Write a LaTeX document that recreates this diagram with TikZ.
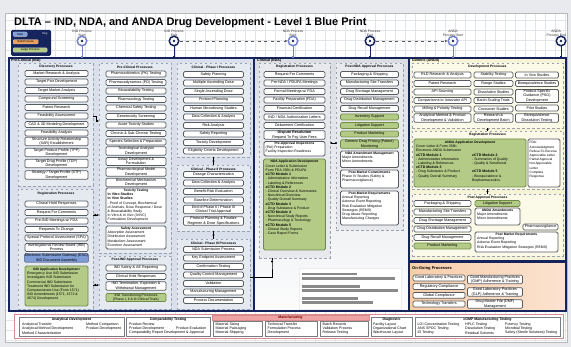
\documentclass[tikz,border=0pt]{standalone}
\usepackage{fontspec}
\setmainfont{Liberation Sans}
\usetikzlibrary{arrows.meta,calc}

\definecolor{navy}{HTML}{15245C}
\definecolor{gridc}{HTML}{E1E4E9}
\definecolor{pageback}{HTML}{E8EAED}
\definecolor{indfill}{HTML}{D9E0EC}
\definecolor{indsub}{HTML}{E5EAF1}
\definecolor{ndafill}{HTML}{DADDE2}
\definecolor{ndasub}{HTML}{E7E9ED}
\definecolor{andafill}{HTML}{F7F3D6}
\definecolor{andasub}{HTML}{FBF9E8}
\definecolor{ongoing}{HTML}{F8CDAA}
\definecolor{ongoinglt}{HTML}{FBE3D0}
\definecolor{boxline}{HTML}{585B60}
\definecolor{dashc}{HTML}{9AA2AE}
\definecolor{greenfill}{HTML}{B3CB86}
\definecolor{greenline}{HTML}{6F8C45}
\definecolor{bluefill}{HTML}{7E9CD6}
\definecolor{orangefill}{HTML}{E9A05E}
\definecolor{mfgline}{HTML}{D98C8C}
\definecolor{mfgbar}{HTML}{EFA3A3}
\definecolor{ringlt}{HTML}{7383C6}
\definecolor{redact}{HTML}{8A8A8A}

\newcommand{\bxfont}{\fontsize{3.7}{4.3}\selectfont}
\newcommand{\hdfont}{\fontsize{3.3}{3.9}\selectfont\bfseries}
\newcommand{\lsfont}{\fontsize{3.5}{4.2}\selectfont}
\newcommand{\mffont}{\fontsize{3.6}{4.2}\selectfont}

\tikzset{
  box/.style={draw=boxline, line width=0.75pt, rounded corners=1.2pt, fill=white,
    inner sep=0.4pt, font=\bxfont, align=center, minimum height=5.8pt},
  gbox/.style={box, fill=greenfill, draw=greenline},
  bbox/.style={box, fill=bluefill, draw=navy!60},
  area/.style 2 args={minimum width=#1pt, minimum height=#2pt, anchor=north west,
    inner sep=0pt, outer sep=0pt},
  panel/.style={draw=navy, line width=1.3pt},
  subpanel/.style={draw=dashc, line width=0.55pt, dash pattern=on 2.5pt off 2.5pt},
  bigbox/.style={draw=boxline, line width=0.75pt, rounded corners=1.5pt, fill=white},
  greenbig/.style={draw=greenline, line width=0.75pt, rounded corners=1.5pt, fill=greenfill},
  hdr/.style={font=\hdfont, inner sep=0pt},
  lst/.style={font=\lsfont, align=left, inner sep=0pt, anchor=north west},
  plabel/.style={font=\fontsize{3.6}{4}\selectfont\bfseries, inner sep=0pt, anchor=west},
  mslabel/.style={font=\fontsize{3.4}{3.9}\selectfont, align=center, inner sep=0pt, text=black!80},
  startms/.style={circle, minimum size=9.5pt, inner sep=0pt, line width=1.5pt, draw=ringlt, fill=white},
  endms/.style={circle, minimum size=9.5pt, inner sep=0pt, line width=1.5pt, draw=navy, fill=white},
  droplt/.style={draw=ringlt, line width=0.7pt, -{Square[length=1.6pt,width=1.6pt]}},
  dropdk/.style={draw=navy, line width=0.7pt, -{Square[length=1.6pt,width=1.6pt]}},
  msdash/.style={draw=black!65, line width=0.6pt, dash pattern=on 3pt off 3.5pt,
    -{Latex[length=2.5pt,width=2.5pt]}},
  link/.style={draw=black, line width=0.6pt},
  tip/.style={-{Latex[length=2pt,width=2pt]}},
  knot/.style={circle, fill=black, inner sep=0pt, minimum size=2.4pt},
  pill/.style={rounded corners=1pt, draw=white!60!gray, line width=0.3pt, inner sep=0.4pt,
    minimum height=4.4pt, font=\fontsize{2.9}{3.3}\selectfont, anchor=west},
  mbox/.style={draw=boxline!80, line width=0.5pt, fill=white},
  mtx/.style={font=\mffont, inner sep=0pt, anchor=west},
  mhd/.style={font=\fontsize{3.5}{4}\selectfont\bfseries, inner sep=0pt},
}

\begin{document}
\begin{tikzpicture}[x=1pt,y=-1pt]
\useasboundingbox (0,0) rectangle (571,347);
\fill[pageback] (0,0) rectangle (571,347);
\fill[white] (5,13) rectangle (567,342);
\foreach \gx in {15,25,...,565} \draw[gridc, line width=0.35pt] (\gx,13) -- (\gx,342);
\foreach \gy in {20,30,...,340} \draw[gridc, line width=0.35pt] (5,\gy) -- (567,\gy);
\draw[gray!55, line width=0.6pt] (5,13) rectangle (567,342);

% ---------- title and key ----------
\node[anchor=base west, font=\fontsize{11}{13}\selectfont\bfseries, inner sep=0pt] (title)
  at (14,26) {DLTA – IND, NDA, and ANDA Drug Development - Level 1 Blue Print};

\node[fill=navy, rounded corners=1.5pt, area={40}{26}] (key) at (11,30) {};
\node[pill, fill=bluefill, minimum width=14pt] (kTask) at (13,34.2) {Task};
\node[pill, fill=orangefill, minimum width=25pt] (kSub) at (13,41.8) {Sub-Process};
\node[pill, fill=greenfill, minimum width=34pt] (kLarge) at (13,50) {Large Process};
\node[font=\fontsize{2.9}{3.3}\selectfont, text=white, inner sep=0pt] (kKey) at (45,33.5) {Key};

% ---------- main panels ----------
\node[panel, fill=indfill, area={245}{253}] (indp) at (9,58) {};
\node[panel, top color=ndafill, bottom color=white!92!ndafill, area={155}{253}] (ndap) at (254,58) {};
\node[panel, fill=andafill, area={157}{203}] (andap) at (409,58) {};
\node[panel, left color=ongoing, right color=ongoinglt, area={157}{49}] (ongp) at (409,262) {};

\node[plabel] (lInd) at (11,61) {Pre-Clinical (IND)};
\node[plabel] (lNda) at (257,61) {Clinical (NDA)};
\node[plabel] (lAnda) at (412,61) {Generic (ANDA)};
\node[plabel, font=\fontsize{4}{4.5}\selectfont\bfseries] (lOng) at (412,268) {On-Going Processes};

% ---------- sub-process frames ----------
\node[subpanel, fill=indsub, area={75}{123}] (disc) at (18,63) {};
\node[subpanel, fill=indsub, area={75}{120}] (regi) at (18,189) {};
\node[subpanel, fill=indsub, area={72}{190}] (prec) at (99,63) {};
\node[subpanel, fill=indsub, area={72}{53}] (posti) at (99,256) {};
\node[subpanel, fill=indsub, area={73}{94}] (ph1) at (177,63) {};
\node[subpanel, fill=indsub, area={73}{66}] (ph2) at (177,165) {};
\node[subpanel, fill=indsub, area={73}{70}] (ph3) at (177,239) {};
\node[subpanel, fill=ndasub, area={71}{195}] (regn) at (259,63) {};
\node[subpanel, fill=ndasub, area={67}{167}] (postn) at (336,63) {};
\node[subpanel, fill=andasub, area={151}{65}] (anddev) at (412,63) {};
\node[subpanel, fill=andasub, area={151}{58}] (andreg) at (412,131) {};
\node[subpanel, fill=andasub, area={151}{62}] (andpost) at (412,194) {};

\node[hdr] (hDisc) at (56,67) {Discovery Processes};
\node[hdr] (hRegi) at (56,193.5) {Registration Processes};
\node[hdr] (hPrec) at (135,67) {Pre-Clinical Processes};
\node[hdr] (hPosti) at (135,260) {Post-IND Approval Processes};
\node[hdr] (hPh1) at (213.5,67) {Clinical - Phase I Processes};
\node[hdr] (hPh2) at (213.5,169) {Clinical - Phase II Processes};
\node[hdr] (hPh3) at (213.5,243) {Clinical - Phase III Processes};
\node[hdr] (hRegn) at (294.5,67) {Registration Processes};
\node[hdr] (hPostn) at (369.5,67) {Post-NDA Approval Processes};
\node[hdr] (hDev) at (487.5,67) {Development Processes};
\node[hdr] (hAreg) at (487.5,135) {Registration Processes};
\node[hdr] (hApost) at (487.5,198) {Post Approval Processes};

% ---------- Pre-Clinical (IND) ----------
\foreach[count=\i] \yy/\txt in {73.5/{Market Research \& Analysis}, 82/{Target Pair Development},
  90.5/{Target Market Analysis}, 99/{Compound Screening}, 107.5/{Patent Research},
  116/{Feasibility Assessment}, 124.5/{CAD \& 3D Modeling Development}, 133/{Feasibility Analysis},
  141.5/{Structure Activity Relationship\\(SAR) Establishment},
  152.5/{Target Product Profile (TPP)\\Development}, 163.5/{Target Drug Profile (TDP)\\Development},
  175/{Strategy / Target Profile (STP)\\Development}}
  \node[box, minimum width=63pt] (dsc\i) at (56.5,\yy) {\txt};

\foreach[count=\i] \yy/\txt in {204/{Clinical Hold Responses}, 212.5/{Request For Comments},
  221/{Pre-IND Meetings w/ FDA}, 229.5/{Requests To Change}, 238/{Special Protocol Assessment (SPA)},
  247.5/{Investigational Review Board (IRB)\\Process}}
  \node[box, minimum width=63pt] (rgi\i) at (56.5,\yy) {\txt};
\node[bbox, minimum width=63pt] (esg) at (56.5,258) {Electronic Submission Gateway (ESG)\\IND Document Assembly};
\node[greenbig, area={63}{40}] (indapp) at (25,266) {};
\node[hdr] (indappH) at (56.5,269.5) {IND Application Development};
\node[lst] (indappL) at (27,272) {Emergency Use IND Submission\\Investigator IND Submission\\
  Commercial IND Submission\\Treatment IND Submission for\\Compassionate Use (Form 1571)\\
  IND Amendments (1571, 1572 \&\\3674) Development};

\foreach[count=\i] \yy/\txt in {74/{Pharmacokinetics (PK) Testing}, 82.5/{Pharmacodynamics (PD) Testing},
  91/{Bioavailability Testing}, 99.5/{Pharmacology Testing}, 108/{Chemical Safety Testing},
  116.5/{Genotoxicity Screening}, 125/{Acute Toxicity Studies}, 133.5/{Chronic \& Sub-Chronic Testing},
  142/{Species Selection \& Preparation}, 151/{Toxicological Analysis\\Development},
  161.5/{Assay Development \&\\Formulation}, 172/{Pharmacological Model\\Development},
  182.5/{Biochemical Mechanism\\Development}}
  \node[box, minimum width=60pt] (pcl\i) at (136,\yy) {\txt};
\node[bigbox, area={60}{35}] (tox) at (106,188) {};
\node[hdr] (toxH) at (136,190.5) {Toxicity Testing};
\node[lst] (toxL) at (107.5,193) {\textbf{In Vitro Studies}\\\textbf{In Vivo Studies}\\
  - Proof of Concept, Biochemical\\of Animals, Dose Response / Dose\\\& Bioavailability Study\\
  In Vitro \& In Vivo (IVIVC)\\Formulation Development};
\node[bigbox, area={60}{23}] (safe) at (106,226) {};
\node[hdr] (safeH) at (136,228.5) {Safety Assessment};
\node[lst] (safeL) at (107.5,231) {Absorption Assessment\\Distribution Assessment\\
  Metabolism Assessment\\Excretion Assessment};

\foreach[count=\i] \yy/\txt in {268/{IND Safety \& AE Reporting}, 276.5/{Clinical Hold Responses},
  286/{IND Termination, Expiration \&\\Withdrawal Management}}
  \node[box, minimum width=60pt] (pst\i) at (136,\yy) {\txt};
\node[gbox, minimum width=60pt, font=\fontsize{3.4}{4.1}\selectfont] (indtr) at (136,297.5)
  {IND Transitioning Processes\\(Phase I, II \& III Clinical Trials)};

\foreach[count=\i] \yy/\txt in {74.5/{Safety Planning}, 83/{Multiple Ascending Dose},
  91.5/{Single Ascending Dose}, 100/{Protocol Planning}, 108.5/{Human Microdosing Studies},
  117/{Data Collection \& Analysis}, 125.5/{Risk Analysis}, 134/{Safety Reporting},
  142.5/{Toxicity Development}, 151/{Eligibility Criteria Development}}
  \node[box, minimum width=60pt] (pa\i) at (213.5,\yy) {\txt};
\foreach[count=\i] \yy/\txt in {174.5/{Dosage Characterization}, 183/{Data Collection \& Analysis},
  191.5/{Benefit-Risk Evaluation}, 200/{Baseline Determination},
  209.5/{End of Phase II / Phase III\\Clinical Trial Approval},
  221/{Protocol Planning \& Finalize\\Regimen \& Dose Specifications}}
  \node[box, minimum width=60pt] (pb\i) at (213.5,\yy) {\txt};
\foreach[count=\i] \yy/\txt in {249.5/{NDA Submission Process}, 258/{Key Endpoint Assessment},
  266.5/{Confirmation Testing}, 275/{Quality Control Management}, 283.5/{Validation},
  292/{Manufacturing Management}, 300.5/{Process Documentation}}
  \node[box, minimum width=60pt] (pc\i) at (213.5,\yy) {\txt};

% ---------- Clinical (NDA) ----------
\foreach[count=\i] \yy/\txt in {74.5/{Request For Comments}, 83/{Pre-NDA / PDUFA Meetings},
  91.5/{Formal Meetings w/ FDA}, 100/{Facility Preparation (FDA)}, 108.5/{Financial Certification},
  117/{IND / NDA Authorization Letters}, 125.5/{Debarment Certification},
  135/{\textbf{Dispute Resolution}\\Request To Pay User Fees}}
  \node[box, minimum width=61pt] (rn\i) at (294.5,\yy) {\txt};
\node[bigbox, area={61}{14.5}] (pai) at (264,141.5) {};
\node[hdr] (paiH) at (294.5,144) {Pre-Approval Inspections};
\node[lst] (paiL) at (265.5,146) {(PAI) Preparation\\Facility Inspection Readiness};
\node[greenbig, area={62}{91}] (ndaapp) at (263.5,159) {};
\node[hdr] (ndaappH) at (294.5,162) {NDA Application Development};
\node[lst] (ndaappL) at (265.5,164.5) {Cover Letter \& Submission\\Form FDA 356h \& PDUFA\\
  \textbf{eCTD Module 1}\\- Administrative Information\\- Labeling \& References\\
  \textbf{eCTD Module 2}\\- Clinical Overview \& Summaries\\- Nonclinical Overview\\
  - Quality Overall Summary\\\textbf{eCTD Module 3}\\- Drug Substance \& Product\\
  \textbf{eCTD Module 4}\\- Nonclinical Study Reports\\- Pharmacology \& Toxicology\\
  \textbf{eCTD Module 5}\\- Clinical Study Reports\\- Case Report Forms};

\foreach[count=\i] \yy/\txt in {74.5/{Packaging \& Shipping}, 83/{Manufacturing Site Transfers},
  91.5/{Drug Shortage Management}, 100/{Drug Distribution Management}, 108.5/{Drug Recall Management}}
  \node[box, minimum width=58pt] (pn\i) at (369.5,\yy) {\txt};
\foreach[count=\i] \yy/\txt in {117/{Inventory Support}, 125.5/{Litigation Support},
  134/{Product Marketing}, 144/{Generic Drug Pricing (Patent)\\Monitoring}}
  \node[gbox, minimum width=58pt] (gn\i) at (369.5,\yy) {\txt};
\node[bigbox, area={58}{16.5}] (amd) at (340.5,151) {};
\node[hdr] (amdH) at (369.5,153.5) {NDA Amendment Management};
\node[lst] (amdL) at (342,156) {Major Amendments\\Minor Amendments};
\node[bigbox, area={58}{18}] (pmc) at (340.5,170) {};
\node[hdr] (pmcH) at (369.5,172.5) {Post-Market Commitments};
\node[lst] (pmcL) at (342,175) {Phase IV Studies (Safety \&\\Pharmacovigilance)};
\node[bigbox, area={58}{34}] (pmr) at (340.5,191) {};
\node[hdr] (pmrH) at (369.5,193.5) {Post-Market Requirements};
\node[lst] (pmrL) at (342,196) {Annual Reporting\\Adverse Event Reporting\\
  Risk Evaluation Mitigation\\Strategies (REMS)\\Drug Abuse Reporting\\Manufacturing Changes};

% withheld notes block
\node[draw=white!85!gray, fill=white, area={102}{41}] (notes) at (299,268) {};
\fill[redact] (302,272.7) rectangle (357,275.4);
\fill[redact] (302,277) rectangle (395,279.7);
\fill[redact] (302,285.3) rectangle (360,288);
\fill[redact] (302,289.4) rectangle (398,292.1);
\fill[redact] (302,297) rectangle (358,299.7);
\fill[redact] (302,301) rectangle (373,303.7);

% ---------- Generic (ANDA) ----------
\foreach[count=\i] \yy/\txt in {75/{RLD Research \& Analysis}, 83.5/{Patent Research},
  92/{API Sourcing}, 100.5/{Comparisons to Innovator API}, 109/{Milling \& Polarity Testing},
  118/{Analytical Method \& Product\\Development \& Validation}}
  \node[box, minimum width=57pt] (da\i) at (442.5,\yy) {\txt};
\foreach[count=\i] \yy/\txt in {75/{Stability Testing}, 83.5/{Range Studies},
  92/{Dissolution Studies}, 100.5/{Batch Scaling Trials}, 109/{Crossover Studies},
  118/{Research \&\\Development Batch}}
  \node[box, minimum width=39pt] (db\i) at (493.5,\yy) {\txt};
\foreach[count=\i] \yy/\txt in {75/{In Vivo Studies}, 83.5/{Bioequivalence Studies},
  96/{Product Specific\\Guidance (PSG)\\Development}, 108/{Pilot Studies},
  118/{Bioequivalence\\Dissolution Testing}}
  \node[box, minimum width=43pt] (dc\i) at (537,\yy) {\txt};

\node[greenbig, area={112}{48}] (andaapp) at (414,139) {};
\node[hdr] (andaappH) at (470,142.5) {ANDA Application Development};
\node[lst] (andaappL) at (416,145) {Cover Letter \& Form 356h\\Electronic ANDA Submission\\
  \textbf{eCTD Module 1}\\- Administrative Information\\- Labeling \& References\\
  \textbf{eCTD Module 3}\\- Drug Substance \& Product\\- Quality Overall Summary};
\node[lst] (andaappR) at (472,153.4) {\textbf{eCTD Module 2}\\- Summaries of Quality\\
  - Quality \& Nonclinical\\~\\\textbf{eCTD Module 5}\\- Bioequivalence \&\\Biopharmaceutics};
\node[bigbox, area={32}{48}] (fda) at (528,139) {};
\node[lst, font=\fontsize{3.2}{4.2}\selectfont] (fdaL) at (529.5,141.5) {FDA:\\Acknowledgment\\
  Refuse-To-Receive\\Approvable Letter\\Partial Approval\\Not Approvable\\Letter\\Complete\\Response};

\foreach[count=\i] \yy/\txt in {203.5/{Packaging \& Shipping}, 212/{Manufacturing Site Transfers},
  220.5/{Drug Shortage Management}, 229/{Drug Distribution Management}, 237.5/{Drug Recall Management}}
  \node[box, minimum width=57pt] (pa\i) at (442.5,\yy) {\txt};
\node[gbox, minimum width=57pt] (amkt) at (442.5,246) {Product Marketing};
\node[gbox, minimum width=45pt] (alit) at (497.5,203.5) {Litigation Support};
\node[bigbox, area={45}{17}] (aamd) at (475,208) {};
\node[hdr] (aamdH) at (497.5,210.5) {ANDA Amendments};
\node[lst] (aamdL) at (477,213) {Major Amendments\\Minor Amendments};
\node[box, minimum width=35pt] (apv) at (540.5,227) {Pharmacovigilance};
\node[bigbox, area={83}{20}] (apmr) at (475,232) {};
\node[hdr] (apmrH) at (516.5,234.5) {Post Market Requirements};
\node[lst] (apmrL) at (477,237) {Annual Reporting\\Adverse Event Reporting\\
  Risk Evaluation Mitigation Strategies (REMS)};

% ---------- On-Going ----------
\foreach[count=\i] \yy/\txt in {278/{Good Laboratory \& Practices}, 286.7/{Regulatory Compliance},
  295.3/{Global Compliance}, 304/{Technology Transfers}}
  \node[box, minimum width=52pt] (og\i) at (439,\yy) {\txt};
\foreach[count=\i] \yy/\txt in {279.5/{Good Manufacturing Practices\\(GMP) Adherence \& Training},
  292/{Good Laboratory Practices\\(GLP) Adherence \& Training}, 304/{Drug Master File (DMF)\\Management}}
  \node[box, minimum width=55pt] (oh\i) at (495,\yy) {\txt};

% ---------- milestones ----------
\node[mslabel] (m1l) at (82,33) {IND Process\\Start};
\node[mslabel] (m2l) at (174,33) {IND Process\\End};
\node[mslabel] (m3l) at (293,33) {NDA Process\\Start};
\node[mslabel] (m4l) at (370,33) {NDA Process\\End};
\node[mslabel] (m5l) at (453,33) {ANDA\\Process Start};
\node[mslabel, anchor=east] (m6l) at (566,33) {ANDA\\Process End};
\node[startms] (m1) at (82,41) {};
\node[endms] (m2) at (174,41) {};
\node[startms] (m3) at (293,41) {};
\node[endms] (m4) at (370,41) {};
\node[startms] (m5) at (453,41) {};
\node[endms] (m6) at (561,41) {};
\foreach \m in {m1,m2,m3,m4,m5,m6} \fill[navy] (\m.center) circle (1.4);

\draw[droplt] (m1.south) -- (m1 |- indp.north);
\draw[dropdk] (m2.south) -- (m2 |- indp.north);
\draw[droplt] (m3.south) -- (m3 |- ndap.north);
\draw[dropdk] (m4.south) -- (m4 |- ndap.north);
\draw[droplt] (m5.south) -- (m5 |- andap.north);
\draw[dropdk] (m6.south) -- (m6 |- andap.north);
\draw[msdash] (m2.east) -- (m3.west);
\draw[msdash] (m4.east) -- (m5.west);

% ---------- connectors between process groups ----------
\coordinate (y116) at (0,116);
\coordinate (y121) at (0,121);
\coordinate (y215) at (0,215);
\coordinate (y285) at (0,285);
\coordinate (y143) at (0,143);
\coordinate (y277) at (0,277);
\coordinate (bendN) at (272,261.5);
\draw[link, tip] (disc.east |- y116) -- ++(3,0) |- (prec.west |- y121);
\draw[link, tip] (regi.east |- y215) -- (prec.west |- y215);
\node[knot] (k215) at ($(regi.east |- y215)!0.4!(prec.west |- y215)$) {};
\draw[link, tip] (regi.east |- y285) -- (posti.west |- y285);
\node[knot] (k285) at ($(regi.east |- y285)!0.4!(posti.west |- y285)$) {};
\draw[link] (ph1.south) -- (ph2.north) node[knot, midway] (k12) {};
\draw[link] (ph2.south) -- (ph3.north) node[knot, midway] (k23) {};
\draw[link] (ph3.east |- y277) -| (bendN) -- (bendN |- regn.south);
\node[knot] (kN) at (bendN) {};
\draw[link, {Latex[length=2pt,width=2pt]}-] (regn.east |- y143) -- (postn.west |- y143);
\node[knot] (k143) at (postn.west |- y143) {};
\draw[link] (anddev.south) -- (andreg.north) node[knot, midway] (kA1) {};
\draw[link] (andreg.south) -- (andpost.north) node[knot, midway] (kA2) {};

% ---------- manufacturing strip ----------
\node[draw=mfgline, line width=0.8pt, fill=white, area={549}{24}] (mfg) at (14,314) {};
\node[mbox, area={105}{19}] (anl) at (19,317) {};
\node[mhd] (anlH) at (71.5,319.8) {Analytical Development};
\node[mtx] (anl1) at (22,324.2) {Analytical Transfer};
\node[mtx] (anl2) at (86,324.2) {Method Comparison};
\node[mtx] (anl3) at (22,328.6) {Analytical Method Development};
\node[mtx] (anl4) at (86,328.6) {Product Development};
\node[mtx] (anl5) at (22,333) {Method Characterization};
\node[mbox, area={84}{19}] (cmp) at (126,317) {};
\node[mhd] (cmpH) at (168,319.8) {Comparability Testing};
\node[mtx] (cmp1) at (129,324.2) {Product Review};
\node[mtx] (cmp2) at (129,328.6) {Product Development};
\node[mtx] (cmp3) at (176,328.6) {Product Evaluation};
\node[mtx] (cmp4) at (129,333) {Comparability Report Development \& Approval};
\node[fill=mfgbar, draw=mfgline, line width=0.5pt, area={157}{5}] (mbar) at (212,315) {};
\node[mhd, text=red!45!black] (mbarH) at (290.5,317.6) {Manufacturing};
\node[mbox, area={49}{15}] (mA) at (213,321) {};
\node[mtx] (mA1) at (215.5,324.2) {Material Sizing};
\node[mtx] (mA2) at (215.5,328.6) {Material Packaging};
\node[mtx] (mA3) at (215.5,333) {Material Shipping};
\node[mbox, area={52}{15}] (mB) at (265,321) {};
\node[mtx] (mB1) at (267.5,324.2) {Technical Transfer};
\node[mtx] (mB2) at (267.5,328.6) {Formulation Process};
\node[mtx] (mB3) at (267.5,333) {Development};
\node[mbox, area={48}{15}] (mC) at (320,321) {};
\node[mtx] (mC1) at (322.5,324.2) {Batch Records};
\node[mtx] (mC2) at (322.5,328.6) {Validation Process};
\node[mtx] (mC3) at (322.5,333) {Release Testing};
\node[mbox, area={41}{19}] (dia) at (371,317) {};
\node[mhd] (diaH) at (391.5,319.8) {Diagnostic};
\node[mtx] (dia1) at (373,324.2) {Facility Layout};
\node[mtx] (dia2) at (373,328.6) {Organizational Chart};
\node[mtx] (dia3) at (373,333) {Warehouse Layout};
\node[mbox, area={145}{19}] (gmp) at (415,317) {};
\node[mhd] (gmpH) at (487.5,319.8) {cGMP Manufacturing Testing};
\node[mtx] (gmp1) at (417.5,324.2) {LOI Concentration Testing};
\node[mtx] (gmp2) at (417.5,328.6) {ANS SPOC Testing};
\node[mtx] (gmp3) at (417.5,333) {ID Testing};
\node[mtx] (gmp4) at (465,324.2) {HPLC Testing};
\node[mtx] (gmp5) at (465,328.6) {Dissolution Testing};
\node[mtx] (gmp6) at (465,333) {Residual Solvents};
\node[mtx] (gmp7) at (505,324.2) {Potency Testing};
\node[mtx] (gmp8) at (505,328.6) {Microbial Testing};
\node[mtx] (gmp9) at (505,333) {Safety (Sterile Solutions) Testing};
\end{tikzpicture}
\end{document}
